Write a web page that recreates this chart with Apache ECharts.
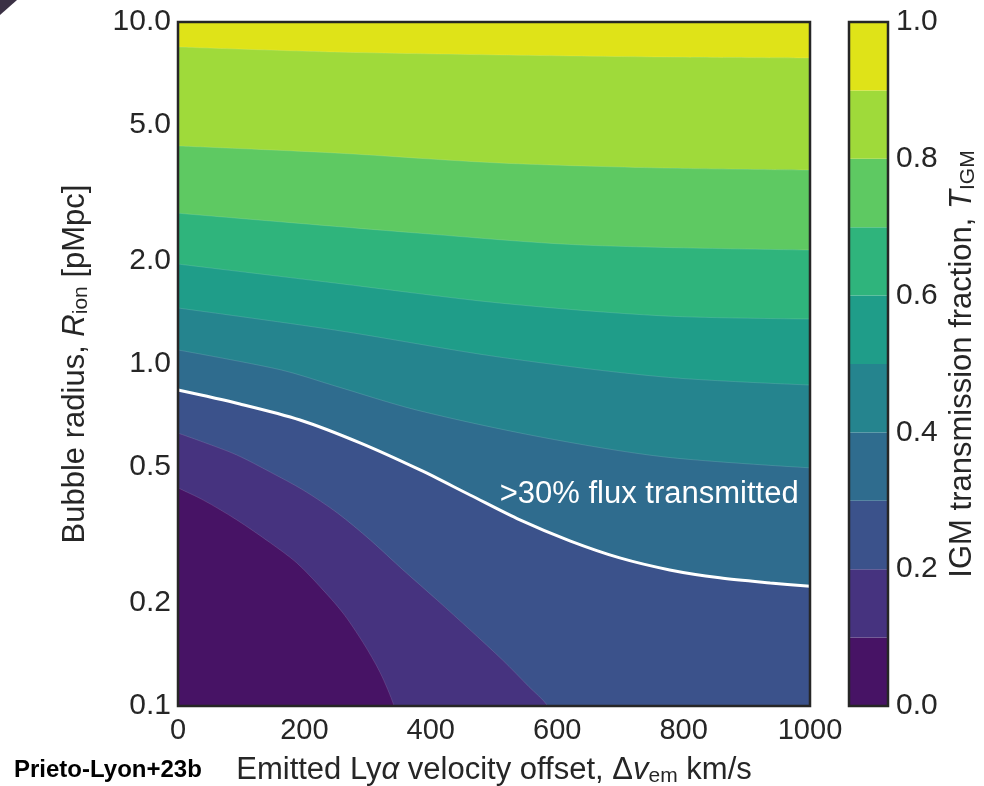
<!DOCTYPE html>
<html>
<head>
<meta charset="utf-8">
<title>IGM transmission</title>
<script src="https://cdn.jsdelivr.net/npm/echarts@6/dist/echarts.min.js"></script>
<style>
  html, body { margin: 0; padding: 0; background: #fff; }
  #chart { width: 984px; height: 786px; }
</style>
</head>
<body>
<div id="chart"></div>
<script>
// tick labels
var yTickValues = [0.1, 0.2, 0.5, 1.0, 2.0, 5.0, 10.0]
var cbLevels = [0, 0.1, 0.2, 0.3, 0.4, 0.5, 0.6, 0.7, 0.8, 0.9, 1.0]
// band colours (viridis, mid of each level)
var bandColors = ['#471365', '#46337f', '#3b528b', '#2f6c8e', '#25848e',
                  '#1f9d89', '#2fb47c', '#5ec962', '#9fda3a', '#dfe318']

// contour lines [velocity km/s, R_ion pMpc]
// (the two lowest ones run out through the bottom edge, the part below 0.1 gets clipped)
var contour10 = [[0, 0.434], [40, 0.400], [93, 0.350], [146, 0.300], [188, 0.262], [225, 0.223],
                 [261, 0.187], [293, 0.153], [320, 0.125], [342, 0.100], [352, 0.085], [1000, 0.085]]
var contour20 = [[0, 0.628], [40, 0.591], [93, 0.542], [146, 0.483], [198, 0.428], [252, 0.367],
                 [304, 0.306], [356, 0.250], [410, 0.204], [462, 0.167], [514, 0.136], [555, 0.114],
                 [585, 0.100], [600, 0.085], [1000, 0.085]]
var contour30 = [[0, 0.839], [98, 0.764], [193, 0.686], [288, 0.588], [383, 0.490], [462, 0.414],
                 [541, 0.350], [620, 0.304], [699, 0.271], [778, 0.250], [857, 0.237], [937, 0.229],
                 [1000, 0.224]]
var contour40 = [[0, 1.099], [163, 0.961], [248, 0.863], [378, 0.733], [573, 0.612], [769, 0.535], [1000, 0.497]]
var contour50 = [[0, 1.458], [248, 1.257], [508, 1.048], [769, 0.916], [1000, 0.868]]
var contour60 = [[0, 1.96], [248, 1.725], [508, 1.508], [769, 1.382], [1000, 1.354]]
var contour70 = [[0, 2.76], [378, 2.415], [638, 2.228], [1000, 2.154]]
var contour80 = [[0, 4.34], [248, 4.14], [508, 3.87], [769, 3.74], [1000, 3.69]]
var contour90 = [[0, 8.45], [248, 8.17], [508, 8.01], [769, 7.90], [1000, 7.85]]
var contours = [contour10, contour20, contour30, contour40, contour50, contour60, contour70, contour80, contour90]

var labelPos = [509, 0.415]
var labelText = '>30% flux transmitted'

var FONT = 'Liberation Sans, Arial, sans-serif'
var INK = '#262626'

var chart = echarts.init(document.getElementById('chart'))

var richName = {
  i: { fontSize: 31, fontStyle: 'italic', fontFamily: FONT, color: INK, lineHeight: 34 },
  sub: { fontSize: 21, fontFamily: FONT, color: INK, lineHeight: 16, verticalAlign: 'bottom' }
}
var nameStyle = { fontSize: 31, fontFamily: FONT, color: INK, lineHeight: 34, rich: richName }

var series = contours.map(function (c, i) {
  var isWhite = i === 2
  var s = {
    type: 'line',
    xAxisIndex: 0,
    yAxisIndex: 0,
    data: c.map(function (p) { return [p[0], Math.log10(p[1])] }),
    symbol: 'none',
    smooth: 0.3,
    lineStyle: isWhite ? { color: '#ffffff', width: 3 } : { color: 'rgba(255,255,255,0.18)', width: 0.7 },
    areaStyle: { color: bandColors[i + 1], opacity: 1, origin: 'end' },
    silent: true
  }
  if (isWhite) {
    s.markPoint = {
      symbol: 'circle',
      symbolSize: 0,
      data: [{ coord: [labelPos[0], Math.log10(labelPos[1])] }],
      label: {
        show: true,
        position: 'right',
        distance: 0,
        formatter: labelText,
        color: '#ffffff',
        fontSize: 31,
        fontFamily: FONT
      }
    }
  }
  return s
})

// colour bar
for (var k = 0; k < cbLevels.length - 1; k++) {
  series.push({
    type: 'bar',
    xAxisIndex: 1,
    yAxisIndex: 1,
    stack: 'cb',
    barWidth: '100%',
    data: [cbLevels[k + 1] - cbLevels[k]],
    itemStyle: { color: bandColors[k] },
    silent: true
  })
}

var option = {
  animation: false,
  backgroundColor: '#ffffff',
  grid: [
    { left: 178, top: 22, width: 632, height: 684, outerBoundsMode: 'none', containLabel: false,
      show: true, backgroundColor: bandColors[0], borderWidth: 0 },
    { left: 849, top: 22, width: 39, height: 684, outerBoundsMode: 'none', containLabel: false },
    { left: 178, top: 22, width: 632, height: 684, outerBoundsMode: 'none',
      show: true, backgroundColor: 'transparent', borderColor: INK, borderWidth: 2.5, z: 10 },
    { left: 849, top: 22, width: 39, height: 684, outerBoundsMode: 'none',
      show: true, backgroundColor: 'transparent', borderColor: INK, borderWidth: 2.5, z: 10 }
  ],
  xAxis: [
    {
      gridIndex: 0, type: 'value', min: 0, max: 1000, interval: 200,
      name: 'Emitted Ly{i|α} velocity offset, Δ{i|v}{sub|em} km/s',
      nameLocation: 'middle', nameGap: 47, nameTextStyle: nameStyle,
      axisLine: { show: false }, axisTick: { show: false }, splitLine: { show: false },
      axisLabel: { fontSize: 29, fontFamily: FONT, color: INK, margin: 10,
                   formatter: function (v) { return String(v) } }
    },
    {
      gridIndex: 1, type: 'category', data: [''], show: false
    }
  ],
  yAxis: [
    {
      gridIndex: 0, type: 'value', min: -1, max: 1,
      name: 'Bubble radius, {i|R}{sub|ion} [pMpc]',
      nameLocation: 'middle', nameRotate: 90, nameGap: 86, nameTextStyle: nameStyle,
      axisLine: { show: false }, axisTick: { show: false }, splitLine: { show: false },
      axisLabel: {
        fontSize: 30, fontFamily: FONT, color: INK, margin: 7,
        customValues: yTickValues.map(function (v) { return Math.log10(v) }),
        formatter: function (v) { return Math.pow(10, v).toFixed(1) }
      }
    },
    {
      gridIndex: 1, type: 'value', min: 0, max: 1, interval: 0.2, position: 'right',
      name: 'IGM transmission fraction, {i|T}{sub|IGM}',
      nameLocation: 'middle', nameRotate: 90, nameGap: 57, nameTextStyle: nameStyle,
      axisLine: { show: false }, axisTick: { show: false }, splitLine: { show: false },
      axisLabel: {
        fontSize: 30, fontFamily: FONT, color: INK, margin: 8,
        formatter: function (v) { return v.toFixed(1) }
      }
    }
  ],
  graphic: [
    {
      type: 'polygon',
      shape: { points: [[0, 0], [17, 0], [0, 15]] },
      style: { fill: '#3b3145' }
    },
    {
      type: 'text',
      left: 14,
      top: 758,
      style: { text: 'Prieto-Lyon+23b', fontSize: 24, fontWeight: 'bold', fontFamily: FONT, fill: '#000' }
    }
  ],
  series: series
}

chart.setOption(option)
</script>
</body>
</html>
